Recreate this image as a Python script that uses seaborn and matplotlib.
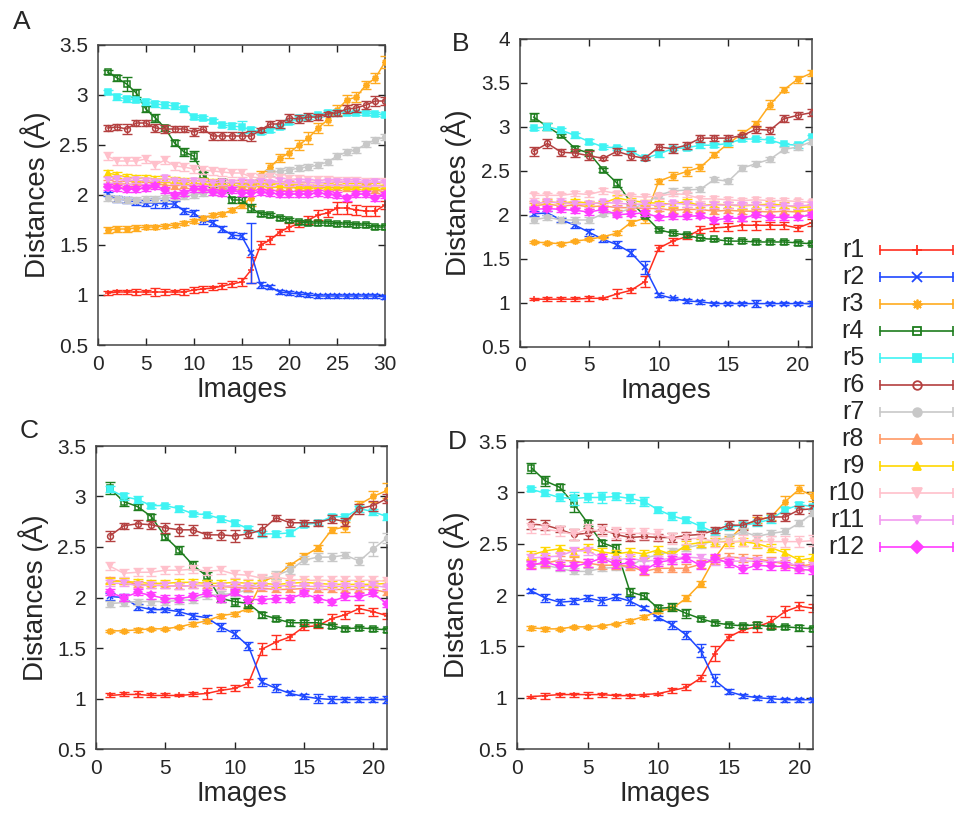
import matplotlib
matplotlib.use("Agg")
import matplotlib.pyplot as plt
import seaborn as sns
from matplotlib.lines import Line2D

# ---------------------------------------------------------------- data
series_names = ["r1", "r2", "r3", "r4", "r5", "r6", "r7", "r8", "r9", "r10", "r11", "r12"]

images_A = list(range(1, 31))
images_BCD = list(range(1, 22))

# Panel A
A_r1 = [1.02, 1.03, 1.03, 1.03, 1.03, 1.03, 1.03, 1.03, 1.03, 1.05, 1.06, 1.07, 1.09, 1.11, 1.13,
        1.25, 1.50, 1.55, 1.63, 1.68, 1.71, 1.75, 1.80, 1.82, 1.87, 1.87, 1.85, 1.84, 1.84, 1.90]
A_r2 = [2.01, 1.96, 1.95, 1.93, 1.92, 1.92, 1.91, 1.91, 1.84, 1.82, 1.75, 1.72, 1.66, 1.60, 1.59,
        1.42, 1.10, 1.08, 1.03, 1.02, 1.01, 1.00, 0.99, 0.99, 0.99, 0.99, 0.99, 0.99, 0.99, 0.98]
A_r3 = [1.65, 1.66, 1.66, 1.67, 1.68, 1.68, 1.69, 1.70, 1.72, 1.74, 1.77, 1.80, 1.81, 1.85, 1.90,
        1.97, 2.20, 2.28, 2.37, 2.42, 2.50, 2.57, 2.67, 2.75, 2.85, 2.95, 2.98, 3.10, 3.17, 3.33]
A_r4 = [3.23, 3.17, 3.11, 3.02, 2.86, 2.77, 2.67, 2.52, 2.43, 2.39, 2.20, 2.11, 2.13, 1.95, 1.95,
        1.87, 1.81, 1.80, 1.77, 1.75, 1.73, 1.72, 1.72, 1.72, 1.71, 1.71, 1.70, 1.70, 1.68, 1.68]
A_r5 = [3.03, 2.98, 2.96, 2.95, 2.93, 2.91, 2.90, 2.89, 2.86, 2.78, 2.77, 2.74, 2.70, 2.69, 2.68,
        2.65, 2.63, 2.65, 2.68, 2.73, 2.77, 2.78, 2.80, 2.82, 2.82, 2.82, 2.82, 2.82, 2.81, 2.80]
A_r6 = [2.67, 2.68, 2.66, 2.72, 2.72, 2.67, 2.66, 2.66, 2.66, 2.63, 2.66, 2.59, 2.59, 2.59, 2.59,
        2.59, 2.65, 2.71, 2.71, 2.77, 2.76, 2.78, 2.78, 2.81, 2.82, 2.86, 2.87, 2.90, 2.94, 2.94]
A_r7 = [1.97, 1.96, 1.95, 1.95, 1.96, 1.96, 1.97, 1.98, 1.99, 2.00, 2.02, 2.03, 2.05, 2.07, 2.08,
        2.12, 2.18, 2.22, 2.24, 2.25, 2.27, 2.28, 2.30, 2.33, 2.39, 2.43, 2.45, 2.51, 2.55, 2.58]
A_r8 = [2.12, 2.11, 2.11, 2.10, 2.10, 2.11, 2.10, 2.09, 2.10, 2.09, 2.08, 2.09, 2.08, 2.09, 2.09,
        2.08, 2.09, 2.08, 2.08, 2.07, 2.08, 2.08, 2.08, 2.07, 2.08, 2.07, 2.07, 2.08, 2.05, 2.03]
A_r9 = [2.22, 2.20, 2.18, 2.17, 2.17, 2.16, 2.16, 2.15, 2.14, 2.14, 2.14, 2.13, 2.13, 2.12, 2.12,
        2.12, 2.12, 2.11, 2.11, 2.11, 2.10, 2.10, 2.10, 2.09, 2.10, 2.09, 2.09, 2.09, 2.09, 2.10]
A_r10 = [2.39, 2.34, 2.34, 2.34, 2.36, 2.30, 2.35, 2.29, 2.28, 2.26, 2.25, 2.24, 2.23, 2.22, 2.22,
         2.18, 2.17, 2.18, 2.17, 2.16, 2.16, 2.15, 2.15, 2.15, 2.14, 2.14, 2.14, 2.13, 2.13, 2.13]
A_r11 = [2.15, 2.16, 2.14, 2.15, 2.14, 2.13, 2.17, 2.14, 2.13, 2.14, 2.13, 2.12, 2.13, 2.12, 2.13,
         2.12, 2.13, 2.12, 2.14, 2.12, 2.13, 2.13, 2.12, 2.13, 2.13, 2.13, 2.13, 2.12, 2.13, 2.12]
A_r12 = [2.08, 2.07, 2.06, 2.06, 2.07, 2.09, 2.05, 2.00, 2.02, 2.06, 2.06, 2.03, 2.02, 2.05, 2.02,
         2.02, 2.03, 2.02, 2.01, 2.01, 2.01, 2.01, 2.02, 2.01, 2.00, 1.97, 2.01, 2.01, 1.97, 2.00]

A_r1_err = [0.02, 0.02, 0.02, 0.03, 0.02, 0.04, 0.03, 0.02, 0.03, 0.03, 0.03, 0.02, 0.03, 0.03, 0.04,
            0.13, 0.04, 0.04, 0.03, 0.04, 0.03, 0.04, 0.05, 0.04, 0.06, 0.06, 0.05, 0.05, 0.05, 0.04]
A_r2_err = [0.02, 0.03, 0.03, 0.03, 0.03, 0.05, 0.04, 0.03, 0.03, 0.03, 0.04, 0.03, 0.03, 0.03, 0.03,
            0.30, 0.03, 0.02, 0.02, 0.02, 0.02, 0.02, 0.02, 0.02, 0.02, 0.02, 0.02, 0.02, 0.02, 0.02]
A_r3_err = [0.03, 0.03, 0.03, 0.03, 0.02, 0.02, 0.02, 0.02, 0.02, 0.02, 0.02, 0.02, 0.02, 0.02, 0.03,
            0.08, 0.04, 0.04, 0.04, 0.05, 0.05, 0.06, 0.05, 0.05, 0.05, 0.05, 0.05, 0.04, 0.05, 0.06]
A_r4_err = [0.02, 0.03, 0.07, 0.04, 0.03, 0.04, 0.03, 0.03, 0.04, 0.05, 0.03, 0.03, 0.03, 0.03, 0.03,
            0.04, 0.02, 0.02, 0.02, 0.02, 0.02, 0.02, 0.02, 0.02, 0.02, 0.02, 0.02, 0.02, 0.02, 0.02]
A_r5_err = [0.02, 0.03, 0.03, 0.02, 0.03, 0.03, 0.03, 0.03, 0.03, 0.02, 0.02, 0.02, 0.02, 0.03, 0.06,
            0.03, 0.02, 0.02, 0.02, 0.02, 0.02, 0.02, 0.02, 0.03, 0.03, 0.02, 0.02, 0.02, 0.02, 0.02]
A_r6_err = [0.03, 0.03, 0.05, 0.03, 0.03, 0.04, 0.04, 0.03, 0.03, 0.04, 0.03, 0.04, 0.04, 0.04, 0.04,
            0.05, 0.02, 0.03, 0.04, 0.04, 0.04, 0.04, 0.03, 0.02, 0.03, 0.04, 0.04, 0.04, 0.05, 0.04]
A_r7_err = 0.03
A_r8_err = 0.03
A_r9_err = 0.03
A_r10_err = 0.04
A_r11_err = 0.03
A_r12_err = 0.03

# Panel B
B_r1 = [1.04, 1.04, 1.04, 1.04, 1.05, 1.05, 1.10, 1.14, 1.24, 1.62, 1.70, 1.75, 1.83, 1.85, 1.86,
        1.88, 1.88, 1.88, 1.88, 1.85, 1.91]
B_r2 = [2.01, 2.02, 1.94, 1.88, 1.80, 1.72, 1.66, 1.57, 1.40, 1.09, 1.05, 1.02, 1.01, 0.99, 0.99,
        0.99, 0.99, 0.99, 0.99, 0.99, 0.99]
B_r3 = [1.69, 1.68, 1.67, 1.70, 1.72, 1.75, 1.79, 1.91, 1.96, 2.38, 2.44, 2.49, 2.54, 2.68, 2.81,
        2.92, 3.03, 3.25, 3.42, 3.54, 3.61]
B_r4 = [3.11, 3.00, 2.90, 2.75, 2.70, 2.51, 2.36, 2.14, 1.99, 1.83, 1.79, 1.77, 1.73, 1.72, 1.70,
        1.70, 1.69, 1.69, 1.69, 1.68, 1.67]
B_r5 = [2.98, 3.00, 2.96, 2.90, 2.83, 2.77, 2.76, 2.72, 2.64, 2.69, 2.75, 2.76, 2.79, 2.79, 2.81,
        2.86, 2.86, 2.85, 2.80, 2.79, 2.88]
B_r6 = [2.72, 2.81, 2.71, 2.70, 2.67, 2.64, 2.72, 2.67, 2.64, 2.77, 2.75, 2.79, 2.87, 2.87, 2.87,
        2.90, 2.97, 2.96, 3.09, 3.13, 3.16]
B_r7 = [1.94, 1.97, 1.94, 1.94, 1.94, 2.01, 2.02, 2.07, 2.12, 2.22, 2.27, 2.28, 2.29, 2.40, 2.38,
        2.53, 2.58, 2.63, 2.74, 2.77, 2.83]
B_r8 = [2.10, 2.12, 2.10, 2.11, 2.09, 2.10, 2.08, 2.08, 2.07, 2.07, 2.05, 2.06, 2.06, 2.04, 2.05,
        2.04, 2.04, 2.03, 2.04, 2.03, 2.05]
B_r9 = [2.12, 2.15, 2.13, 2.15, 2.13, 2.13, 2.19, 2.16, 2.14, 2.13, 2.12, 2.15, 2.10, 2.12, 2.11,
        2.10, 2.11, 2.12, 2.11, 2.08, 2.09]
B_r10 = [2.22, 2.22, 2.22, 2.24, 2.23, 2.27, 2.24, 2.21, 2.20, 2.21, 2.24, 2.23, 2.18, 2.18, 2.17,
         2.16, 2.17, 2.16, 2.16, 2.15, 2.14]
B_r11 = [2.13, 2.14, 2.14, 2.12, 2.12, 2.14, 2.13, 2.12, 2.12, 2.10, 2.13, 2.12, 2.10, 2.11, 2.11,
         2.11, 2.11, 2.10, 2.10, 2.10, 2.11]
B_r12 = [2.06, 2.07, 2.06, 2.05, 2.03, 2.06, 2.00, 2.01, 2.02, 1.97, 1.98, 1.98, 1.99, 1.94, 1.96,
         1.96, 2.00, 1.97, 1.97, 1.97, 2.00]

B_r1_err = [0.01, 0.02, 0.02, 0.02, 0.03, 0.01, 0.05, 0.03, 0.06, 0.03, 0.04, 0.03, 0.04, 0.04, 0.04,
            0.05, 0.05, 0.04, 0.04, 0.03, 0.04]
B_r2_err = [0.03, 0.02, 0.02, 0.03, 0.04, 0.03, 0.04, 0.04, 0.07, 0.02, 0.02, 0.02, 0.02, 0.02, 0.02,
            0.02, 0.04, 0.02, 0.02, 0.02, 0.03]
B_r3_err = [0.01, 0.01, 0.02, 0.01, 0.01, 0.01, 0.02, 0.03, 0.05, 0.03, 0.05, 0.05, 0.04, 0.03, 0.04,
            0.04, 0.03, 0.05, 0.03, 0.04, 0.03]
B_r4_err = [0.04, 0.04, 0.02, 0.03, 0.03, 0.02, 0.04, 0.02, 0.02, 0.02, 0.02, 0.02, 0.02, 0.02, 0.03,
            0.02, 0.02, 0.02, 0.02, 0.02, 0.02]
B_r5_err = [0.02, 0.04, 0.03, 0.03, 0.03, 0.02, 0.02, 0.02, 0.02, 0.03, 0.02, 0.02, 0.03, 0.02, 0.02,
            0.02, 0.02, 0.02, 0.02, 0.03, 0.02]
B_r6_err = [0.05, 0.05, 0.04, 0.05, 0.05, 0.02, 0.04, 0.05, 0.02, 0.03, 0.05, 0.04, 0.04, 0.03, 0.03,
            0.02, 0.04, 0.04, 0.04, 0.04, 0.04]
B_r7_err = 0.03
B_r8_err = 0.03
B_r9_err = 0.03
B_r10_err = 0.03
B_r11_err = 0.03
B_r12_err = 0.03

# Panel C
C_r1 = [1.03, 1.04, 1.04, 1.03, 1.03, 1.03, 1.04, 1.05, 1.08, 1.10, 1.15, 1.49, 1.56, 1.61, 1.71,
        1.72, 1.79, 1.83, 1.89, 1.86, 1.82]
C_r2 = [2.01, 2.00, 1.91, 1.88, 1.88, 1.86, 1.82, 1.80, 1.71, 1.64, 1.52, 1.16, 1.10, 1.05, 1.02,
        1.00, 0.99, 0.99, 0.99, 0.99, 0.99]
C_r3 = [1.67, 1.67, 1.68, 1.69, 1.69, 1.71, 1.74, 1.77, 1.82, 1.84, 1.89, 2.16, 2.21, 2.32, 2.41,
        2.49, 2.67, 2.70, 2.92, 3.00, 3.06]
C_r4 = [3.08, 2.95, 2.90, 2.80, 2.60, 2.47, 2.32, 2.21, 1.99, 1.96, 1.94, 1.83, 1.79, 1.75, 1.75,
        1.75, 1.72, 1.69, 1.70, 1.69, 1.68]
C_r5 = [3.07, 3.00, 2.97, 2.91, 2.91, 2.88, 2.83, 2.82, 2.78, 2.74, 2.68, 2.63, 2.63, 2.64, 2.72,
        2.74, 2.80, 2.80, 2.88, 2.85, 2.80]
C_r6 = [2.61, 2.71, 2.73, 2.72, 2.69, 2.67, 2.67, 2.62, 2.62, 2.61, 2.63, 2.67, 2.79, 2.74, 2.74,
        2.74, 2.78, 2.75, 2.88, 2.91, 2.98]
C_r7 = [1.94, 1.95, 1.96, 1.96, 1.96, 1.97, 1.98, 2.02, 2.03, 2.04, 2.08, 2.18, 2.22, 2.27, 2.37,
        2.40, 2.40, 2.42, 2.36, 2.48, 2.59]
C_r8 = [2.17, 2.16, 2.13, 2.12, 2.12, 2.11, 2.12, 2.12, 2.11, 2.10, 2.09, 2.09, 2.08, 2.08, 2.09,
        2.08, 2.08, 2.08, 2.08, 2.08, 2.05]
C_r9 = [2.16, 2.16, 2.15, 2.14, 2.14, 2.15, 2.15, 2.14, 2.14, 2.15, 2.14, 2.14, 2.13, 2.14, 2.15,
        2.14, 2.13, 2.13, 2.13, 2.13, 2.14]
C_r10 = [2.31, 2.24, 2.25, 2.25, 2.27, 2.27, 2.28, 2.26, 2.27, 2.23, 2.22, 2.19, 2.20, 2.18, 2.17,
         2.17, 2.17, 2.17, 2.17, 2.17, 2.16]
C_r11 = [2.14, 2.14, 2.12, 2.12, 2.12, 2.11, 2.12, 2.11, 2.11, 2.12, 2.11, 2.11, 2.11, 2.12, 2.11,
         2.11, 2.11, 2.11, 2.11, 2.12, 2.10]
C_r12 = [2.05, 2.00, 2.05, 2.02, 1.99, 1.99, 2.01, 2.04, 1.99, 2.05, 1.98, 1.98, 1.99, 1.99, 2.04,
         1.99, 1.96, 2.01, 2.01, 2.04, 1.94]

C_r1_err = [0.02, 0.02, 0.03, 0.02, 0.02, 0.01, 0.02, 0.05, 0.03, 0.03, 0.04, 0.06, 0.07, 0.03, 0.03,
            0.02, 0.05, 0.04, 0.04, 0.04, 0.03]
C_r2_err = [0.03, 0.03, 0.03, 0.02, 0.02, 0.03, 0.03, 0.03, 0.04, 0.04, 0.04, 0.04, 0.04, 0.02, 0.02,
            0.04, 0.03, 0.02, 0.02, 0.02, 0.03]
C_r3_err = [0.01, 0.01, 0.02, 0.01, 0.01, 0.01, 0.02, 0.02, 0.02, 0.02, 0.02, 0.04, 0.03, 0.02, 0.03,
            0.03, 0.03, 0.05, 0.04, 0.05, 0.07]
C_r4_err = [0.06, 0.04, 0.03, 0.03, 0.03, 0.04, 0.04, 0.04, 0.03, 0.04, 0.04, 0.03, 0.02, 0.03, 0.03,
            0.04, 0.02, 0.02, 0.02, 0.02, 0.02]
C_r5_err = [0.03, 0.03, 0.03, 0.02, 0.02, 0.03, 0.02, 0.02, 0.03, 0.03, 0.03, 0.03, 0.03, 0.03, 0.02,
            0.02, 0.03, 0.03, 0.03, 0.03, 0.03]
C_r6_err = [0.05, 0.03, 0.04, 0.04, 0.05, 0.06, 0.05, 0.03, 0.05, 0.06, 0.04, 0.06, 0.03, 0.04, 0.03,
            0.03, 0.04, 0.04, 0.05, 0.05, 0.04]
C_r7_err = [0.03, 0.03, 0.03, 0.03, 0.03, 0.03, 0.03, 0.03, 0.03, 0.03, 0.03, 0.04, 0.04, 0.04, 0.04,
            0.04, 0.04, 0.03, 0.04, 0.07, 0.05]
C_r8_err = 0.03
C_r9_err = 0.03
C_r10_err = 0.04
C_r11_err = 0.03
C_r12_err = 0.03

# Panel D
D_r1 = [1.01, 1.02, 1.03, 1.03, 1.03, 1.03, 1.02, 1.02, 1.03, 1.04, 1.07, 1.10, 1.19, 1.43, 1.59,
        1.66, 1.69, 1.74, 1.84, 1.89, 1.87]
D_r2 = [2.04, 1.97, 1.93, 1.94, 1.97, 1.94, 1.98, 1.94, 1.87, 1.78, 1.71, 1.61, 1.46, 1.17, 1.06,
        1.02, 1.00, 0.99, 0.98, 0.98, 0.98]
D_r3 = [1.68, 1.67, 1.67, 1.69, 1.69, 1.70, 1.72, 1.75, 1.79, 1.84, 1.87, 1.97, 2.11, 2.36, 2.54,
        2.67, 2.73, 2.76, 2.91, 3.03, 2.96]
D_r4 = [3.24, 3.11, 3.05, 2.89, 2.70, 2.51, 2.46, 2.03, 1.99, 1.87, 1.88, 1.82, 1.77, 1.73, 1.71,
        1.70, 1.71, 1.69, 1.69, 1.68, 1.67]
D_r5 = [3.03, 2.99, 2.95, 2.94, 2.95, 2.95, 2.96, 2.94, 2.91, 2.83, 2.77, 2.73, 2.67, 2.61, 2.66,
        2.68, 2.70, 2.74, 2.83, 2.88, 2.86]
D_r6 = [2.69, 2.68, 2.64, 2.59, 2.60, 2.64, 2.59, 2.56, 2.57, 2.56, 2.56, 2.58, 2.59, 2.63, 2.68,
        2.68, 2.73, 2.76, 2.76, 2.83, 2.84]
D_r7 = [2.31, 2.29, 2.26, 2.23, 2.23, 2.26, 2.27, 2.28, 2.36, 2.39, 2.43, 2.46, 2.49, 2.53, 2.56,
        2.62, 2.57, 2.60, 2.62, 2.70, 2.80]
D_r8 = [2.30, 2.31, 2.34, 2.33, 2.31, 2.29, 2.29, 2.28, 2.23, 2.26, 2.26, 2.26, 2.30, 2.34, 2.37,
        2.36, 2.35, 2.33, 2.30, 2.28, 2.30]
D_r9 = [2.39, 2.43, 2.45, 2.42, 2.46, 2.42, 2.40, 2.42, 2.40, 2.44, 2.39, 2.49, 2.51, 2.52, 2.52,
        2.52, 2.50, 2.46, 2.41, 2.34, 2.36]
D_r10 = [2.65, 2.64, 2.62, 2.59, 2.64, 2.62, 2.61, 2.60, 2.60, 2.59, 2.55, 2.55, 2.55, 2.52, 2.51,
         2.53, 2.52, 2.52, 2.52, 2.52, 2.53]
D_r11 = [2.36, 2.37, 2.38, 2.43, 2.43, 2.36, 2.34, 2.36, 2.33, 2.34, 2.36, 2.37, 2.36, 2.33, 2.33,
         2.33, 2.33, 2.32, 2.33, 2.27, 2.28]
D_r12 = [2.29, 2.32, 2.28, 2.28, 2.31, 2.36, 2.30, 2.31, 2.24, 2.32, 2.34, 2.36, 2.29, 2.36, 2.31,
         2.25, 2.29, 2.28, 2.28, 2.25, 2.24]

D_r1_err = [0.01, 0.03, 0.02, 0.02, 0.03, 0.02, 0.02, 0.02, 0.01, 0.01, 0.02, 0.03, 0.03, 0.07, 0.03,
            0.02, 0.05, 0.06, 0.05, 0.04, 0.04]
D_r2_err = [0.02, 0.04, 0.03, 0.03, 0.03, 0.04, 0.03, 0.04, 0.02, 0.02, 0.04, 0.04, 0.06, 0.06, 0.02,
            0.02, 0.02, 0.03, 0.02, 0.02, 0.02]
D_r3_err = [0.02, 0.02, 0.01, 0.01, 0.01, 0.01, 0.01, 0.02, 0.02, 0.02, 0.02, 0.03, 0.03, 0.03, 0.03,
            0.03, 0.03, 0.03, 0.05, 0.04, 0.04]
D_r4_err = [0.05, 0.05, 0.03, 0.08, 0.03, 0.03, 0.04, 0.04, 0.03, 0.03, 0.04, 0.04, 0.02, 0.02, 0.02,
            0.02, 0.03, 0.02, 0.02, 0.03, 0.02]
D_r5_err = [0.02, 0.03, 0.03, 0.06, 0.04, 0.05, 0.03, 0.04, 0.04, 0.03, 0.04, 0.03, 0.04, 0.03, 0.03,
            0.03, 0.03, 0.04, 0.03, 0.03, 0.03]
D_r6_err = [0.05, 0.05, 0.03, 0.05, 0.05, 0.05, 0.05, 0.03, 0.03, 0.03, 0.04, 0.03, 0.03, 0.03, 0.04,
            0.05, 0.05, 0.04, 0.04, 0.04, 0.04]
D_r7_err = 0.03
D_r8_err = 0.04
D_r9_err = 0.04
D_r10_err = 0.05
D_r11_err = 0.04
D_r12_err = 0.04

# ---------------------------------------------------------------- styles
colors = ["#ff2e1f", "#1f48ff", "#ffab1f", "#1e7d1e", "#3ff3f3", "#b44040",
          "#c8c8c8", "#ff9a66", "#ffd700", "#ffc0cb", "#f29cf0", "#ff3cff"]
markers = ["+", "x", (8, 2, 0), "s", "s", "o", "o", "^", "^", "v", "v", "D"]
marker_sizes = [4.5, 4.5, 5, 4, 4, 4.2, 4.2, 5, 4.2, 5, 4.2, 3.8]
open_marker = [False, False, False, True, False, True, False, False, False, False, False, False]

sns.set_theme(style="ticks")
plt.rcParams["font.family"] = ["Liberation Sans", "DejaVu Sans"]

W, H = 956, 813
fig = plt.figure(figsize=(W / 100, H / 100), dpi=100)


def px_axes(left, top, right, bottom):
    return fig.add_axes([left / W, 1 - bottom / H, (right - left) / W, (bottom - top) / H])


def draw_panel(ax, x, values, errors, xmax, ymax, xticks, yticks, yticklabels):
    for i in range(len(series_names)):
        c = colors[i]
        face = "none" if open_marker[i] else c
        sns.lineplot(x=x, y=values[i], ax=ax, color=c, linewidth=1.1,
                     marker=markers[i], markersize=marker_sizes[i],
                     markeredgecolor=c, markerfacecolor=face, markeredgewidth=1.1,
                     zorder=2 + i, legend=False)
        ax.errorbar(x, values[i], yerr=errors[i], fmt="none", ecolor=c,
                    elinewidth=1.0, capsize=3.8, capthick=1.0, zorder=2 + i)
    ax.set_xlim(0, xmax)
    ax.set_ylim(0.5, ymax)
    ax.set_xticks(xticks)
    ax.set_yticks(yticks)
    ax.set_yticklabels(yticklabels)
    ax.set_xlabel("Images", fontsize=20, labelpad=2)
    ax.set_ylabel("Distances (Å)", fontsize=20, labelpad=6)
    ax.tick_params(direction="in", length=5, width=1, top=True, right=True,
                   labelsize=15, pad=7, color="#222222")
    for s in ax.spines.values():
        s.set_color("#444444")
        s.set_linewidth(1.1)


y35 = [0.5, 1.0, 1.5, 2.0, 2.5, 3.0, 3.5]
y35_lab = ["0.5", "1", "1.5", "2", "2.5", "3", "3.5"]
y40 = [0.5, 1.0, 1.5, 2.0, 2.5, 3.0, 3.5, 4.0]
y40_lab = ["0.5", "1", "1.5", "2", "2.5", "3", "3.5", "4"]

axA = px_axes(98, 45, 385, 345)
draw_panel(axA, images_A,
           [A_r1, A_r2, A_r3, A_r4, A_r5, A_r6, A_r7, A_r8, A_r9, A_r10, A_r11, A_r12],
           [A_r1_err, A_r2_err, A_r3_err, A_r4_err, A_r5_err, A_r6_err, A_r7_err,
            A_r8_err, A_r9_err, A_r10_err, A_r11_err, A_r12_err],
           30, 3.5, [0, 5, 10, 15, 20, 25, 30], y35, y35_lab)

axB = px_axes(519.6, 38.7, 811.7, 346.7)
draw_panel(axB, images_BCD,
           [B_r1, B_r2, B_r3, B_r4, B_r5, B_r6, B_r7, B_r8, B_r9, B_r10, B_r11, B_r12],
           [B_r1_err, B_r2_err, B_r3_err, B_r4_err, B_r5_err, B_r6_err, B_r7_err,
            B_r8_err, B_r9_err, B_r10_err, B_r11_err, B_r12_err],
           21, 4.0, [0, 5, 10, 15, 20], y40, y40_lab)

axC = px_axes(96, 446, 387, 749)
draw_panel(axC, images_BCD,
           [C_r1, C_r2, C_r3, C_r4, C_r5, C_r6, C_r7, C_r8, C_r9, C_r10, C_r11, C_r12],
           [C_r1_err, C_r2_err, C_r3_err, C_r4_err, C_r5_err, C_r6_err, C_r7_err,
            C_r8_err, C_r9_err, C_r10_err, C_r11_err, C_r12_err],
           21, 3.5, [0, 5, 10, 15, 20], y35, y35_lab)

axD = px_axes(517.2, 441, 813.4, 749)
draw_panel(axD, images_BCD,
           [D_r1, D_r2, D_r3, D_r4, D_r5, D_r6, D_r7, D_r8, D_r9, D_r10, D_r11, D_r12],
           [D_r1_err, D_r2_err, D_r3_err, D_r4_err, D_r5_err, D_r6_err, D_r7_err,
            D_r8_err, D_r9_err, D_r10_err, D_r11_err, D_r12_err],
           21, 3.5, [0, 5, 10, 15, 20], y35, y35_lab)

# panel letters
for letter, (lx, ly) in zip("ABCD", [(22, 22), (461, 44), (29, 431), (457, 442)]):
    fig.text(lx / W, 1 - ly / H, letter, fontsize=19, ha="center", va="center")

# legend: label on the left, error-bar style sample on the right
for i, name in enumerate(series_names):
    yp = 1 - (250 + 27 * i) / H
    x0, x1, xm = 880 / W, 953 / W, 916.5 / W
    fig.text(864 / W, yp, name, fontsize=18, ha="right", va="center")
    fig.add_artist(Line2D([x0, x1], [yp, yp], color=colors[i], lw=1.2,
                          transform=fig.transFigure))
    fig.add_artist(Line2D([x0, x1], [yp, yp], ls="none", marker="|", markersize=7,
                          markeredgewidth=1.2, color=colors[i], transform=fig.transFigure))
    fig.add_artist(Line2D([xm], [yp], ls="none", marker=markers[i],
                          markersize=marker_sizes[i] + 2, markeredgewidth=1.3,
                          color=colors[i], markeredgecolor=colors[i],
                          markerfacecolor="none" if open_marker[i] else colors[i],
                          transform=fig.transFigure))

fig.savefig("out.png", dpi=100)
